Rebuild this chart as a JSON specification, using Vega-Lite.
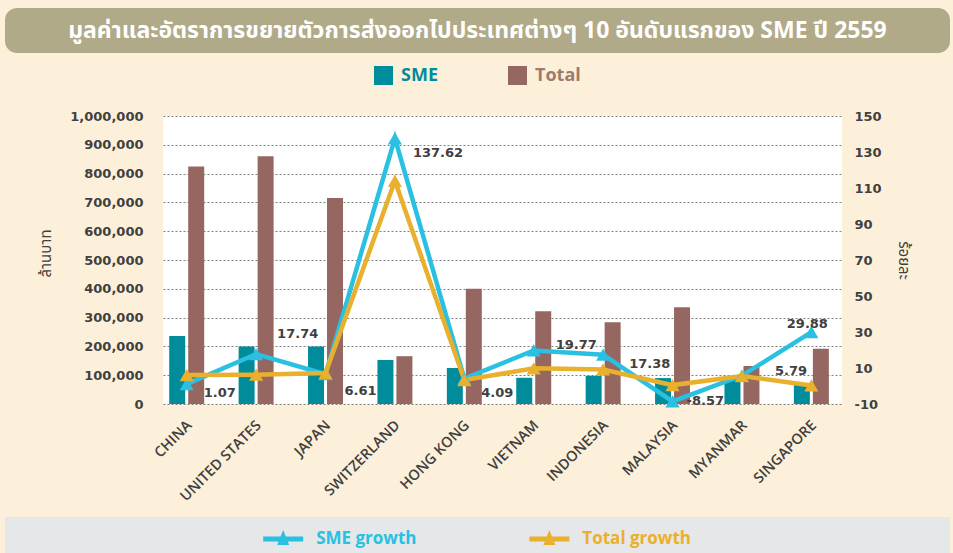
{
  "$schema": "https://vega.github.io/schema/vega-lite/v6.json",
  "background": "#fdf0da",
  "padding": {"left": 5, "top": 8, "right": 3, "bottom": 0},
  "spacing": 13,
  "resolve": {"scale": {"x": "independent", "y": "independent", "color": "independent"}, "legend": {"color": "independent"}},
  "config": {"view": {"stroke": null}, "locale": {"number": {"decimal": ".", "thousands": ",", "grouping": [3], "currency": ["$", ""], "minus": "-"}}},
  "vconcat": [
    {
      "width": 945,
      "height": 45,
      "view": {"fill": "#b1aa88", "stroke": null, "cornerRadius": 12},
      "data": {"values": [{"t": "มูลค่าและอัตราการขยายตัวการส่งออกไปประเทศต่างๆ  10 อันดับแรกของ SME ปี 2559"}]},
      "mark": {"type": "text", "color": "#ffffff", "fontSize": 23, "fontWeight": "bold", "font": "Noto Sans Thai, Noto Sans, sans-serif", "baseline": "middle", "align": "center"},
      "encoding": {"text": {"field": "t"}}
    },
    {
      "concat": [
        {
          "width": 1,
          "height": 1,
          "data": {"values": []},
          "mark": {"type": "point", "opacity": 0},
          "encoding": {}
        },
        {
          "width": 679,
          "height": 288,
          "view": {"fill": "#ffffff", "stroke": null},
          "data": {"values": [
            {"rank": 1, "country": "CHINA", "SME": 236000, "Total": 825000, "SME growth": 1.07, "Total growth": 6.1},
            {"rank": 2, "country": "UNITED STATES", "SME": 200000, "Total": 860000, "SME growth": 17.74, "Total growth": 6.3},
            {"rank": 3, "country": "JAPAN", "SME": 200000, "Total": 715000, "SME growth": 6.61, "Total growth": 7.2},
            {"rank": 4, "country": "SWITZERLAND", "SME": 153000, "Total": 166000, "SME growth": 137.62, "Total growth": 114},
            {"rank": 5, "country": "HONG KONG", "SME": 125000, "Total": 400000, "SME growth": 4.09, "Total growth": 3.3},
            {"rank": 6, "country": "VIETNAM", "SME": 91000, "Total": 322000, "SME growth": 19.77, "Total growth": 9.8},
            {"rank": 7, "country": "INDONESIA", "SME": 98000, "Total": 284000, "SME growth": 17.38, "Total growth": 9.2},
            {"rank": 8, "country": "MALAYSIA", "SME": 90000, "Total": 336000, "SME growth": -8.57, "Total growth": 0.5},
            {"rank": 9, "country": "MYANMAR", "SME": 88000, "Total": 132000, "SME growth": 5.79, "Total growth": 5.5},
            {"rank": 10, "country": "SINGAPORE", "SME": 66000, "Total": 192000, "SME growth": 29.88, "Total growth": 0.3}
          ]},
          "encoding": {
            "x": {
              "field": "country", "type": "nominal", "sort": null,
              "scale": {"paddingInner": 0.467, "paddingOuter": 0.125, "align": 0.3},
              "axis": {
                "title": null, "domain": false, "ticks": false, "tickSize": 0,
                "labelAngle": -45, "labelAlign": "right", "labelBaseline": "top",
                "labelPadding": 14, "labelOffset": -2,
                "labelFont": "Open Sans", "labelFontWeight": 600, "labelFontSize": 14.5, "labelColor": "#404040"
              }
            }
          },
          "layer": [
            {
              "transform": [{"fold": ["SME", "Total"], "as": ["series", "value"]}],
              "mark": {"type": "bar"},
              "encoding": {
                "xOffset": {"field": "series", "type": "nominal", "scale": {"domain": ["SME", "Total"], "paddingInner": 0.158, "paddingOuter": 0.053}},
                "y": {
                  "field": "value", "type": "quantitative",
                  "scale": {"domain": [0, 1000000], "nice": false},
                  "axis": {
                    "orient": "left", "title": "ล้านบาท", "values": [0, 100000, 200000, 300000, 400000, 500000, 600000, 700000, 800000, 900000, 1000000],
                    "format": ",d", "domain": false, "ticks": false, "tickSize": 0, "labelPadding": 20, "minExtent": 157,
                    "grid": true, "gridDash": [2, 2], "gridColor": "#7f7f7f", "gridWidth": 1,
                    "labelFont": "DejaVu Sans", "labelFontWeight": "bold", "labelFontSize": 13, "labelColor": "#404040",
                    "titleFont": "Noto Sans Thai, Noto Sans, sans-serif", "titleFontWeight": "normal", "titleFontSize": 15, "titleColor": "#404040",
                    "titleX": -118, "titleY": 137, "titleBaseline": "middle", "titleAngle": -90
                  }
                },
                "color": {
                  "field": "series", "type": "nominal",
                  "scale": {"domain": ["SME", "Total"], "range": ["#008c9a", "#956760"]},
                  "legend": {
                    "orient": "none", "legendX": 211, "legendY": -50, "direction": "horizontal", "title": null,
                    "symbolType": "square", "symbolSize": 361, "symbolStrokeWidth": 0, "padding": 0,
                    "labelFont": "Open Sans", "labelFontSize": 18, "labelFontWeight": "bold", "labelOffset": 8, "columnPadding": 70,
                    "encode": {"labels": {"update": {"fill": {"signal": "datum.value === 'SME' ? '#008c9a' : '#a07a70'"}}}}
                  }
                }
              }
            },
            {
              "transform": [{"fold": ["SME growth", "Total growth"], "as": ["gseries", "growth"]}],
              "encoding": {
                "y": {
                  "field": "growth", "type": "quantitative",
                  "scale": {"domain": [-10, 150], "nice": false, "zero": false},
                  "axis": {
                    "orient": "right", "title": "ร้อยละ", "values": [-10, 10, 30, 50, 70, 90, 110, 130, 150],
                    "domain": false, "ticks": false, "tickSize": 0, "labelPadding": 12, "grid": false,
                    "labelFont": "DejaVu Sans", "labelFontWeight": "bold", "labelFontSize": 13, "labelColor": "#404040",
                    "titleFont": "Noto Sans Thai, Noto Sans, sans-serif", "titleFontWeight": "normal", "titleFontSize": 15, "titleColor": "#404040", "titlePadding": 14
                  }
                }
              },
              "layer": [
                {
                  "mark": {"type": "line", "strokeWidth": 4.5},
                  "encoding": {
                    "order": {"field": "rank", "type": "quantitative"},
                    "color": {"field": "gseries", "type": "nominal", "scale": {"domain": ["SME growth", "Total growth"], "range": ["#29c0e2", "#e9b02e"]}, "legend": null}
                  }
                },
                {
                  "mark": {"type": "point", "shape": "triangle-up", "filled": true, "size": 200, "opacity": 1},
                  "encoding": {
                    "color": {"field": "gseries", "type": "nominal", "scale": {"domain": ["SME growth", "Total growth"], "range": ["#29c0e2", "#e9b02e"]}, "legend": null}
                  }
                },
                {
                  "transform": [{"filter": "datum.gseries === 'SME growth' && datum.country === 'CHINA'"}],
                  "mark": {"type": "text", "align": "left", "baseline": "middle", "dx": 17, "dy": 9, "font": "DejaVu Sans", "fontWeight": "bold", "fontSize": 13, "color": "#404040"},
                  "encoding": {"text": {"field": "growth", "type": "quantitative", "format": ".2f"}}
                },
                {
                  "transform": [{"filter": "datum.gseries === 'SME growth' && datum.country === 'UNITED STATES'"}],
                  "mark": {"type": "text", "align": "left", "baseline": "middle", "dx": 21, "dy": -20, "font": "DejaVu Sans", "fontWeight": "bold", "fontSize": 13, "color": "#404040"},
                  "encoding": {"text": {"field": "growth", "type": "quantitative", "format": ".2f"}}
                },
                {
                  "transform": [{"filter": "datum.gseries === 'SME growth' && datum.country === 'JAPAN'"}],
                  "mark": {"type": "text", "align": "left", "baseline": "middle", "dx": 19, "dy": 17, "font": "DejaVu Sans", "fontWeight": "bold", "fontSize": 13, "color": "#404040"},
                  "encoding": {"text": {"field": "growth", "type": "quantitative", "format": ".2f"}}
                },
                {
                  "transform": [{"filter": "datum.gseries === 'SME growth' && datum.country === 'SWITZERLAND'"}],
                  "mark": {"type": "text", "align": "left", "baseline": "middle", "dx": 18, "dy": 15, "font": "DejaVu Sans", "fontWeight": "bold", "fontSize": 13, "color": "#404040"},
                  "encoding": {"text": {"field": "growth", "type": "quantitative", "format": ".2f"}}
                },
                {
                  "transform": [{"filter": "datum.gseries === 'SME growth' && datum.country === 'HONG KONG'"}],
                  "mark": {"type": "text", "align": "left", "baseline": "middle", "dx": 17, "dy": 14, "font": "DejaVu Sans", "fontWeight": "bold", "fontSize": 13, "color": "#404040"},
                  "encoding": {"text": {"field": "growth", "type": "quantitative", "format": ".2f"}}
                },
                {
                  "transform": [{"filter": "datum.gseries === 'SME growth' && datum.country === 'VIETNAM'"}],
                  "mark": {"type": "text", "align": "left", "baseline": "middle", "dx": 22, "dy": -5, "font": "DejaVu Sans", "fontWeight": "bold", "fontSize": 13, "color": "#404040"},
                  "encoding": {"text": {"field": "growth", "type": "quantitative", "format": ".2f"}}
                },
                {
                  "transform": [{"filter": "datum.gseries === 'SME growth' && datum.country === 'INDONESIA'"}],
                  "mark": {"type": "text", "align": "left", "baseline": "middle", "dx": 26, "dy": 9, "font": "DejaVu Sans", "fontWeight": "bold", "fontSize": 13, "color": "#404040"},
                  "encoding": {"text": {"field": "growth", "type": "quantitative", "format": ".2f"}}
                },
                {
                  "transform": [{"filter": "datum.gseries === 'SME growth' && datum.country === 'MALAYSIA'"}],
                  "mark": {"type": "text", "align": "left", "baseline": "middle", "dx": 14, "dy": 0, "font": "DejaVu Sans", "fontWeight": "bold", "fontSize": 13, "color": "#404040"},
                  "encoding": {"text": {"field": "growth", "type": "quantitative", "format": ".2f"}}
                },
                {
                  "transform": [{"filter": "datum.gseries === 'SME growth' && datum.country === 'MYANMAR'"}],
                  "mark": {"type": "text", "align": "left", "baseline": "middle", "dx": 33, "dy": -5, "font": "DejaVu Sans", "fontWeight": "bold", "fontSize": 13, "color": "#404040"},
                  "encoding": {"text": {"field": "growth", "type": "quantitative", "format": ".2f"}}
                },
                {
                  "transform": [{"filter": "datum.gseries === 'SME growth' && datum.country === 'SINGAPORE'"}],
                  "mark": {"type": "text", "align": "center", "baseline": "middle", "dx": -4, "dy": -8, "font": "DejaVu Sans", "fontWeight": "bold", "fontSize": 13, "color": "#404040"},
                  "encoding": {"text": {"field": "growth", "type": "quantitative", "format": ".2f"}}
                }
              ]
            }
          ],
          "resolve": {"scale": {"y": "independent", "color": "independent"}}
        }
      ],
      "columns": 2,
      "align": "none",
      "spacing": 0,
      "resolve": {"scale": {"x": "independent", "y": "independent", "color": "independent"}, "legend": {"color": "independent"}}
    },
    {
      "width": 945,
      "height": 44,
      "view": {"fill": "#e6e7e8", "stroke": null},
      "data": {"values": [{"name": "SME growth"}, {"name": "Total growth"}]},
      "encoding": {
        "x": {"field": "name", "type": "nominal", "sort": null, "scale": {"type": "band", "paddingInner": 0.45, "paddingOuter": 1, "align": 0.385}, "axis": null},
        "color": {"field": "name", "type": "nominal", "scale": {"domain": ["SME growth", "Total growth"], "range": ["#29c0e2", "#e9b02e"]}, "legend": null}
      },
      "layer": [
        {"mark": {"type": "point", "shape": "M-1,-0.125H1V0.125H-1Z M-0.3,0.3L0,-0.45L0.3,0.3Z", "filled": true, "size": 1600, "opacity": 1}},
        {"mark": {"type": "text", "align": "left", "baseline": "middle", "dx": 33, "font": "Open Sans", "fontSize": 17, "fontWeight": "bold"}, "encoding": {"text": {"field": "name"}}}
      ]
    }
  ]
}
